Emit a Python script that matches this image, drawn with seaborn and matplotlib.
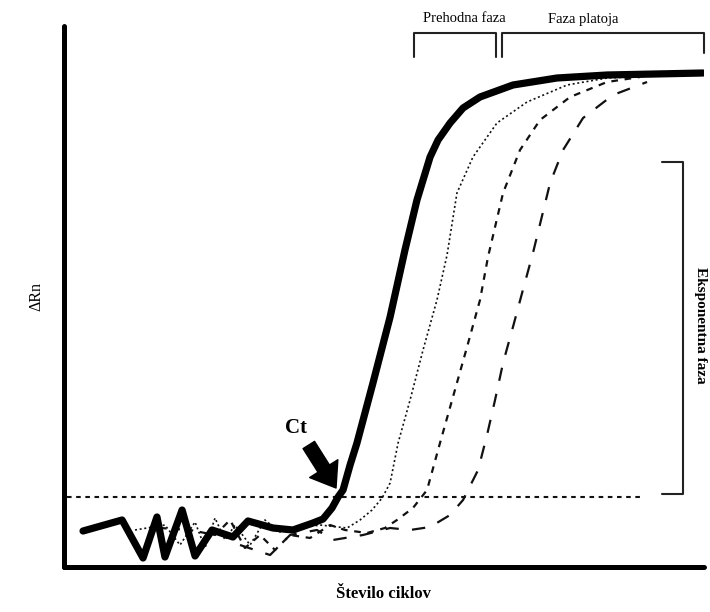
import matplotlib
matplotlib.use("Agg")
import matplotlib.pyplot as plt
import seaborn as sns
import pandas as pd

# Amplification curves: cycle number vs. normalised reporter signal (ΔRn)
cycles_a = [1.19, 3.63, 4.94, 5.81, 6.31, 7.38, 8.19, 9.25, 10.56, 11.50, 13.06, 14.31,
            15.56, 16.19, 16.75, 17.13, 17.44, 17.88, 18.31, 19.31, 20.38, 21.31, 22.06,
            22.88, 23.38, 24.13, 24.94, 26.00, 28.06, 30.81, 33.94, 39.94]
drn_a = [0.36, 0.47, 0.09, 0.50, 0.10, 0.57, 0.11, 0.37, 0.30, 0.46, 0.39, 0.37,
         0.44, 0.48, 0.59, 0.70, 0.77, 1.02, 1.24, 1.84, 2.50, 3.17, 3.67,
         4.10, 4.27, 4.44, 4.59, 4.70, 4.82, 4.89, 4.92, 4.94]

cycles_b = [4.44, 6.31, 7.25, 8.19, 8.81, 9.44, 10.06, 10.69, 11.63, 12.56, 13.50, 14.75,
            16.00, 17.69, 18.50, 19.25, 19.88, 20.38, 20.88, 21.63, 22.44, 23.31, 23.94,
            24.56, 25.56, 27.06, 28.94, 31.44, 33.94, 36.63]
drn_b = [0.37, 0.42, 0.22, 0.45, 0.19, 0.49, 0.27, 0.42, 0.22, 0.47, 0.35, 0.39,
         0.42, 0.39, 0.47, 0.57, 0.69, 0.84, 1.24, 1.67, 2.17, 2.67, 3.12,
         3.74, 4.10, 4.44, 4.65, 4.82, 4.89, 4.91]

cycles_c = [6.00, 7.88, 9.44, 10.38, 11.31, 12.25, 13.19, 14.13, 15.38, 16.63, 17.56, 18.94,
            20.06, 20.81, 21.81, 22.69, 23.50, 24.31, 25.19, 26.00, 26.50, 27.44, 28.50,
            29.75, 31.63, 33.94, 36.00]
drn_c = [0.39, 0.37, 0.32, 0.47, 0.19, 0.32, 0.17, 0.32, 0.29, 0.42, 0.37, 0.34,
         0.39, 0.47, 0.59, 0.77, 1.24, 1.70, 2.20, 2.67, 3.10, 3.74, 4.17,
         4.47, 4.70, 4.85, 4.90]

cycles_d = [11.00, 12.88, 14.13, 15.81, 16.81, 18.69, 20.38, 21.63, 22.88, 24.13, 24.94,
            25.88, 26.44, 26.94, 27.44, 28.06, 28.63, 29.31, 30.38, 31.19, 32.44, 34.31, 36.44]
drn_d = [0.22, 0.12, 0.32, 0.37, 0.27, 0.32, 0.39, 0.37, 0.40, 0.52, 0.67,
         0.97, 1.32, 1.67, 2.04, 2.40, 2.74, 3.14, 3.84, 4.17, 4.49, 4.72, 4.85]

threshold = 0.70
threshold_span = [0.19, 36.1]
ct_cycle = 17.0

sns.set_style("white")
plt.rcParams["font.family"] = ["Liberation Serif", "DejaVu Serif"]
plt.rcParams["text.color"] = "black"
plt.rcParams["axes.labelcolor"] = "black"

fig = plt.figure(figsize=(7.10, 6.12), dpi=100)
ax = fig.add_axes([64 / 710, 45 / 612, 640 / 710, 541 / 612])

frames = {
    "a": pd.DataFrame({"cikel": cycles_a, "dRn": drn_a}),
    "b": pd.DataFrame({"cikel": cycles_b, "dRn": drn_b}),
    "c": pd.DataFrame({"cikel": cycles_c, "dRn": drn_c}),
    "d": pd.DataFrame({"cikel": cycles_d, "dRn": drn_d}),
}

sns.lineplot(data=frames["d"], x="cikel", y="dRn", sort=False, estimator=None, ax=ax,
             color="#111111", lw=1.6, linestyle=(0, (6, 6)))
sns.lineplot(data=frames["c"], x="cikel", y="dRn", sort=False, estimator=None, ax=ax,
             color="#111111", lw=1.6, linestyle=(0, (3, 3)))
sns.lineplot(data=frames["b"], x="cikel", y="dRn", sort=False, estimator=None, ax=ax,
             color="#111111", lw=1.2, linestyle=(0, (1.2, 1.6)))

# threshold line
ax.plot(threshold_span, [threshold, threshold], color="#111111", lw=1.5,
        linestyle=(0, (2.2, 2.2)))

sns.lineplot(data=frames["a"], x="cikel", y="dRn", sort=False, estimator=None, ax=ax,
             color="black", lw=5.2, solid_joinstyle="round", solid_capstyle="round")

ax.set_xlim(0, 40)
ax.set_ylim(0, 5.41)
ax.set_xticks([])
ax.set_yticks([])
for side in ["top", "right"]:
    ax.spines[side].set_visible(False)
for side in ["left", "bottom"]:
    ax.spines[side].set_linewidth(3.6)
    ax.spines[side].set_color("black")
    ax.spines[side].set_capstyle("round")

ax.set_xlabel("Število ciklov", fontsize=12, fontweight="bold", labelpad=14)
ax.set_ylabel("ΔRn", fontsize=11.5, labelpad=14)

# Ct marker
ax.text(14.5, 1.39, "Ct", fontsize=15, fontweight="bold", ha="center", va="center",
        bbox=dict(facecolor="white", edgecolor="none", pad=2), zorder=5)
ax.annotate("", xy=(ct_cycle, 0.79), xytext=(15.3, 1.22),
            arrowprops=dict(arrowstyle="simple,head_length=1.1,head_width=1.6,tail_width=0.65",
                            color="black", mutation_scale=15, shrinkA=0, shrinkB=0),
            zorder=6)

bracket = dict(color="#222222", lw=1.5, clip_on=False)
# transition phase bracket
ax.plot([21.88, 21.88, 27.0, 27.0], [5.10, 5.34, 5.34, 5.10], **bracket)
# plateau phase bracket
ax.plot([27.38, 27.38, 40.0, 40.0], [5.10, 5.34, 5.34, 5.14], **bracket)
# exponential phase bracket
ax.plot([37.38, 38.69, 38.69, 37.38], [4.05, 4.05, 0.73, 0.73], **bracket)

ax.text(25.0, 5.49, "Prehodna faza", fontsize=10.5, ha="center", va="center", clip_on=False)
ax.text(32.44, 5.47, "Faza platoja", fontsize=10.5, ha="center", va="center", clip_on=False)
ax.text(39.8, 2.42, "Eksponentna faza", fontsize=11, fontweight="bold", rotation=-90,
        ha="center", va="center", clip_on=False)

fig.savefig("out.png", dpi=100, facecolor="white")
